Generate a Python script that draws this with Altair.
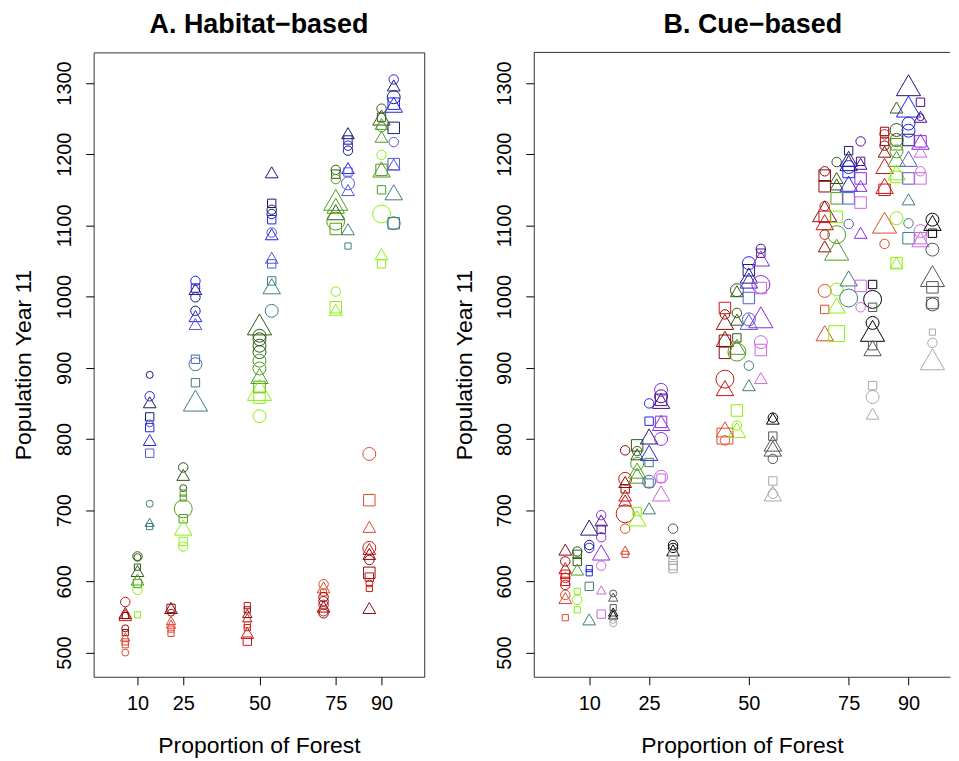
import altair as alt
import pandas as pd

FONT = "Liberation Sans"
LEVELS = [10, 25, 50, 75, 90]
YTICKS = [500, 600, 700, 800, 900, 1000, 1100, 1200, 1300]

# series colour keys (family letter + shade)
SERIES = ["r1", "r2", "r3", "g1", "g2", "g3", "b1", "b2", "b3", "b4",
          "p1", "p2", "p3", "k1", "k2", "k3"]
SERIES_COLORS = ["#8B0A0A", "#CC1414", "#E0482A", "#2F5A12", "#4F9C1E", "#86F20A",
                 "#1C1870", "#2222E8", "#5656D6", "#3E7C7C",
                 "#4E0E8E", "#8A2BE2", "#CC66DD", "#000000", "#555555", "#A8A8A8"]

# dodge of each family around its forest level
A_OFFSETS = {"r": -4, "g": 0, "b": 4}
B_OFFSETS = {"r": -6, "g": -3, "b": 0, "p": 3, "k": 6}

# ---------------- Panel A: Habitat-based  (series, shape, size class, population)
A10 = [("r2","c",2,571),("r1","t",2,553),("r2","t",2,550),("r1","s",1,552),("r1","c",1,534),
       ("r1","s",1,528),("r3","t",1,520),("r3","s",1,515),("r3","s",1,511),("r3","c",1,500),
       ("g1","c",2,635),("g1","c",1,634),("g1","s",1,620),("g1","t",2,612),("g2","t",2,600),
       ("g2","s",2,597),("g3","c",2,588),("g3","s",1,553),
       ("b1","c",1,890),("b2","c",2,860),("b1","t",2,849),("b1","s",2,831),("b3","c",1,822),
       ("b2","s",2,816),("b2","t",2,796),("b3","s",2,780),("b4","c",1,709),("b4","t",1,681),
       ("b4","s",1,677)]
A25 = [("r1","s",2,562),("r1","t",2,560),("r1","c",1,556),("r3","t",1,543),("r3","t",1,538),
       ("r3","s",1,533),("r3","s",1,527),
       ("g1","c",2,760),("g1","t",2,747),("g1","c",1,731),("g2","s",1,724),("g2","s",1,717),
       ("g2","c",4,702),("g2","s",2,688),("g3","t",3,672),("g3","s",2,656),("g3","c",2,649),
       ("b2","c",2,1022),("b2","s",2,1012),("b1","t",2,1008),("b1","c",2,999),("b1","c",2,980),
       ("b2","t",2,970),("b3","t",2,959),("b3","s",2,912),("b4","c",3,905),("b4","s",2,879),
       ("b4","t",4,849)]
A50 = [("r2","s",1,566),("r1","s",1,560),("r1","t",1,553),("r2","t",1,547),("r3","s",1,539),
       ("r2","s",1,535),("r2","t",2,525),("r2","s",2,516),
       ("g1","t",4,956),("g1","c",3,945),("g1","c",3,940),("g1","c",3,931),("g1","c",3,922),
       ("g2","c",3,910),("g2","c",3,899),("g2","t",3,885),("g2","s",3,873),("g3","t",4,864),
       ("g3","s",3,858),("g3","c",3,832),
       ("b1","t",2,1172),("b1","s",2,1131),("b1","c",2,1122),("b1","c",2,1116),("b2","s",2,1108),
       ("b3","c",2,1090),("b2","t",2,1085),("b3","t",2,1052),("b3","s",2,1046),("b4","s",2,1022),
       ("b4","t",3,1011),("b4","c",3,980)]
A75 = [("r3","c",2,596),("r3","t",2,589),("r3","s",1,584),("r1","c",2,578),("r1","c",2,572),
       ("r2","c",2,567),("r1","t",2,562),("r2","c",2,558),("r1","c",2,555),
       ("g1","c",2,1178),("g1","s",2,1172),("g2","c",2,1165),("g2","t",4,1131),("g2","t",3,1124),
       ("g1","t",3,1115),("g2","c",4,1106),("g2","s",3,1095),("g3","c",2,1007),("g3","s",3,985),
       ("g3","t",2,979),
       ("b1","t",2,1227),("b1","s",2,1220),("b2","c",2,1212),("b1","c",2,1205),("b2","t",2,1178),
       ("b3","s",2,1175),("b3","c",3,1159),("b3","t",2,1147),("b4","t",2,1092),("b4","s",1,1071)]
A90 = [("r3","c",3,779),("r3","s",3,714),("r3","t",2,674),("r2","c",3,647),("r2","t",2,643),
       ("r1","t",2,636),("r1","c",2,630),("r1","s",3,612),("r2","s",2,606),("r2","c",1,597),
       ("r2","s",1,590),("r1","t",2,560),
       ("g1","c",2,1264),("g1","s",2,1252),("g1","t",3,1248),("g2","t",2,1240),("g2","c",2,1238),
       ("g2","t",2,1222),("g3","c",2,1199),("g2","s",3,1178),("g2","t",3,1175),("g2","s",2,1150),
       ("g3","c",4,1116),("g3","t",2,1057),("g3","s",2,1046),
       ("b2","c",2,1305),("b1","t",2,1294),("b1","c",3,1280),("b2","s",3,1271),("b2","t",3,1266),
       ("b1","s",3,1237),("b3","c",2,1217),("b3","s",3,1186),("b3","t",2,1183),("b4","t",3,1143),
       ("b4","c",3,1103),("b4","s",3,1103)]

# ---------------- Panel B: Cue-based
B10 = [("r1","t",2,642),("r1","c",2,628),("r2","t",2,616),("r2","s",2,610),("r2","c",2,605),
       ("r2","s",2,600),("r2","c",2,595),("r3","c",2,581),("r3","t",2,574),("r3","s",1,549),
       ("g1","c",2,642),("g1","s",2,638),("g1","s",2,628),("g2","t",2,614),("g3","s",1,586),
       ("g3","c",2,574),("g3","s",1,560),
       ("b1","t",3,672),("b1","c",2,651),("b2","c",2,647),("b2","s",1,618),("b2","s",1,612),
       ("b4","s",2,593),("b4","t",2,544),
       ("p2","c",2,693),("p1","t",2,683),("p1","s",2,673),("p2","c",2,662),("p2","t",3,637),
       ("p3","c",2,622),("p3","t",1,586),("p3","s",2,554),
       ("k2","c",1,583),("k2","t",1,576),("k2","s",1,563),("k1","t",1,555),("k1","t",1,551),
       ("k3","c",1,546),("k3","c",1,541)]
B25 = [("r1","c",2,784),("r2","c",3,744),("r1","t",2,737),("r1","s",2,730),("r2","t",2,718),
       ("r2","t",2,711),("r2","c",4,695),("r3","c",2,674),("r3","t",1,642),("r3","s",1,638),
       ("g1","s",3,791),("g1","c",2,783),("g1","t",2,776),("g2","c",3,765),("g2","t",3,752),
       ("g2","t",3,745),("g3","s",2,698),("g3","t",3,685),
       ("b2","c",2,850),("b2","s",2,825),("b1","t",3,800),("b2","t",3,777),("b4","s",2,767),
       ("b3","c",3,740),("b4","s",2,738),("b4","t",2,700),
       ("p2","c",3,869),("p1","c",3,860),("p1","s",3,855),("p1","t",3,850),("p2","s",3,824),
       ("p2","t",3,819),("p2","c",3,800),("p3","c",3,747),("p3","s",2,745),("p3","t",3,720),
       ("k2","c",2,674),("k1","c",2,651),("k1","c",2,647),("k1","t",2,641),("k3","c",2,637),
       ("k3","s",2,630),("k3","s",2,622),("k3","s",2,618)]
B50 = [("r2","s",3,984),("r1","c",2,975),("r1","t",3,961),("r1","s",3,938),("r1","t",3,937),
       ("r1","s",3,921),("r2","c",4,884),("r2","t",3,868),("r3","t",3,810),("r3","s",4,804),
       ("r3","c",2,798),
       ("g1","c",3,1009),("g1","t",2,1005),("g1","c",2,977),("g1","t",2,965),("g1","s",2,942),
       ("g2","t",3,926),("g2","c",4,922),("g3","s",3,840),("g3","c",2,819),("g3","t",3,809),
       ("b2","c",3,1047),("b1","s",3,1037),("b1","t",3,1026),("b2","t",3,1019),("b3","s",3,998),
       ("b3","c",3,968),("b3","t",3,961),("b4","c",2,903),("b4","t",2,873),
       ("p1","c",2,1067),("p1","s",2,1061),("p2","t",3,1050),("p2","c",4,1017),("p3","s",3,1012),
       ("p2","t",4,966),("p3","c",3,936),("p3","s",3,925),("p3","t",2,883),
       ("k1","c",2,830),("k1","t",2,826),("k2","s",2,804),("k2","t",3,790),("k2","t",3,783),
       ("k2","c",2,772),("k3","s",2,741),("k3","c",2,723),("k3","t",3,720)]
B75 = [("r1","c",2,1176),("r1","s",3,1170),("r1","s",3,1155),("r2","c",2,1127),("r1","t",4,1115),
       ("r2","s",3,1112),("r2","t",3,1101),("r2","c",2,1087),("r1","t",2,1068),("r3","c",3,1008),
       ("r3","s",2,982),("r3","t",3,945),
       ("g1","c",2,1189),("g1","t",2,1164),("g1","t",2,1155),("g2","s",3,1138),("g3","s",3,1112),
       ("g2","c",4,1087),("g2","t",4,1061),("g3","c",3,1010),("g3","t",3,984),("g3","s",4,948),
       ("b1","s",2,1205),("b1","t",3,1190),("b1","t",3,1184),("b2","c",3,1182),("b2","s",3,1175),
       ("b2","t",3,1155),("b3","s",3,1138),("b3","c",2,1102),("b4","t",3,1022),("b4","c",4,998),
       ("p1","c",2,1218),("p1","s",2,1190),("p1","t",2,1184),("p2","s",3,1166),("p2","t",2,1153),
       ("p3","s",3,1132),("p2","t",2,1087),("p3","s",3,1015),("p3","c",2,985),
       ("k1","s",2,1017),("k1","c",4,996),("k2","s",2,985),("k1","c",3,963),("k1","t",4,947),
       ("k2","s",2,931),("k2","t",3,924),("k3","s",2,875),("k3","c",3,859),("k3","t",2,833)]
B90 = [("r1","s",2,1232),("r2","c",2,1228),("r1","s",2,1218),("r1","c",2,1212),("r1","t",2,1201),
       ("r2","t",3,1180),("r2","s",3,1150),("r2","t",3,1152),("r3","t",4,1099),("r3","c",2,1074),
       ("g1","t",2,1263),("g1","c",3,1234),("g1","c",3,1220),("g2","s",3,1214),("g2","c",3,1204),
       ("g2","t",3,1190),("g3","t",3,1171),("g3","s",3,1168),("g3","c",3,1110),("g3","s",3,1047),
       ("g3","t",2,1045),
       ("b1","t",4,1292),("b2","t",4,1262),("b2","c",3,1243),("b2","c",3,1233),("b1","s",3,1220),
       ("b3","t",3,1190),("b3","s",3,1166),("b4","t",2,1134),("b4","c",2,1103),("b4","s",3,1082),
       ("p1","s",2,1273),("p1","c",1,1252),("p1","t",2,1250),("p2","s",3,1218),("p2","t",3,1214),
       ("p3","t",2,1201),("p3","c",2,1176),("p3","s",3,1166),("p3","c",3,1092),("p3","s",3,1082),
       ("p3","t",3,1077),
       ("k1","c",3,1108),("k1","t",3,1100),("k1","s",2,1089),("k2","c",3,1066),("k2","t",4,1024),
       ("k2","s",3,1013),("k2","s",3,991),("k2","c",3,989),("k3","s",1,950),("k3","c",2,935),
       ("k3","t",4,907)]


def build(groups, offsets):
    rows = []
    for lvl, pts in zip(LEVELS, groups):
        for i, (ser, shp, sz, val) in enumerate(pts):
            rows.append({"x": lvl + offsets[ser[0]], "y": val, "series": ser,
                         "shape": shp, "size": sz, "order": i})
    return pd.DataFrame(rows)


dfA = build([A10, A25, A50, A75, A90], A_OFFSETS)
dfB = build([B10, B25, B50, B75, B90], B_OFFSETS)

SQUARE = "M-0.886,-0.886L0.886,-0.886L0.886,0.886L-0.886,0.886Z"
TRIANGLE = "M0,-1.555L1.347,0.778L-1.347,0.778Z"

H = 627


def panel(df, title, width, xdomain, boxed, title_x):
    xaxis = alt.Axis(values=LEVELS, title="Proportion of Forest", grid=False,
                     domain=not boxed, domainColor="#333333", domainWidth=1,
                     tickColor="#000000", tickSize=8, tickWidth=1,
                     labelFont=FONT, labelFontSize=20, labelColor="#000000", labelPadding=9,
                     labelFlush=False,
                     titleFont=FONT, titleFontSize=23, titleFontWeight="normal",
                     titleColor="#000000", titlePadding=21)
    yaxis = alt.Axis(values=YTICKS, format="d", title="Population Year 11", grid=False,
                     domain=not boxed, domainColor="#333333", domainWidth=1,
                     tickColor="#000000", tickSize=8, tickWidth=1,
                     labelFont=FONT, labelFontSize=20, labelColor="#000000",
                     labelAngle=270, labelAlign="center", labelBaseline="bottom",
                     labelPadding=11, labelFlush=False,
                     titleFont=FONT, titleFontSize=23, titleFontWeight="normal",
                     titleColor="#000000", titlePadding=19, titleAngle=270,
                     titleAlign="center", titleBaseline="bottom")
    pts = alt.Chart(df).mark_point(filled=False, strokeWidth=1.0, opacity=1).encode(
        x=alt.X("x:Q", scale=alt.Scale(domain=xdomain, nice=False, zero=False), axis=xaxis),
        y=alt.Y("y:Q", scale=alt.Scale(domain=[466, 1343], nice=False, zero=False), axis=yaxis),
        color=alt.Color("series:N", scale=alt.Scale(domain=SERIES, range=SERIES_COLORS), legend=None),
        shape=alt.Shape("shape:N", scale=alt.Scale(domain=["c", "s", "t"],
                                                   range=["circle", SQUARE, TRIANGLE]), legend=None),
        size=alt.Size("size:Q", scale=alt.Scale(domain=[1, 2, 3, 4], range=[49, 90, 169, 324]), legend=None),
        order=alt.Order("order:Q"),
    )
    ttl = alt.Chart(pd.DataFrame({"t": [title]})).mark_text(
        font=FONT, fontSize=27, fontWeight="bold", color="#000000",
        align="center", baseline="alphabetic").encode(
        text="t:N", x=alt.value(title_x), y=alt.value(-19))
    layers = [pts, ttl]
    if not boxed:
        top = alt.Chart(pd.DataFrame({"t": [0]})).mark_rule(color="#333333", strokeWidth=1).encode(
            x=alt.value(0), x2=alt.value(width), y=alt.value(0))
        layers.append(top)
    ch = alt.layer(*layers).properties(
        width=width, height=H,
        view=alt.ViewBackground(stroke="#333333" if boxed else "transparent", strokeWidth=1),
    )
    return ch


left = panel(dfA, "A. Habitat\u2212based", 332, [-4.37, 104.0], True, 166)
right = panel(dfB, "B. Cue\u2212based", 418, [-3.9, 100.4], False, 220)

chart = alt.hconcat(left, right, spacing=27).properties(
    padding={"left": 4, "top": 1, "right": 0, "bottom": 0},
    background="white",
)

chart.save("out.html", embed_options={"renderer": "svg", "actions": False})
